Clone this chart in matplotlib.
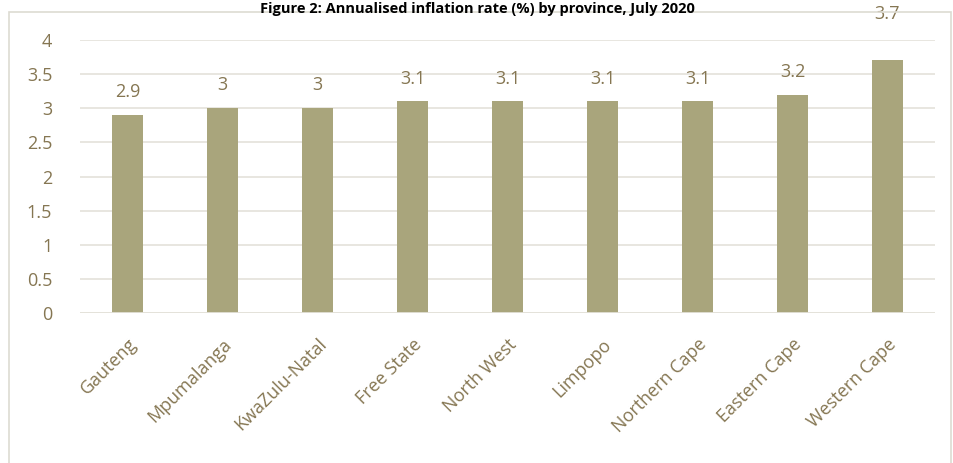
import matplotlib
matplotlib.use('Agg')
import matplotlib.pyplot as plt
from matplotlib.patches import Rectangle

provinces = ['Gauteng', 'Mpumalanga', 'KwaZulu-Natal', 'Free State', 'North West',
             'Limpopo', 'Northern Cape', 'Eastern Cape', 'Western Cape']
rates = [2.9, 3.0, 3.0, 3.1, 3.1, 3.1, 3.1, 3.2, 3.7]
labels = ['2.9', '3', '3', '3.1', '3.1', '3.1', '3.1', '3.2', '3.7']
yticks = [0, 0.5, 1, 1.5, 2, 2.5, 3, 3.5, 4]

bar_col = '#A9A57C'
txt_col = '#857652'
grid_col = '#E4E2DA'

plt.rcParams['font.family'] = ['Open Sans', 'DejaVu Sans']

fig = plt.figure(figsize=(9.54, 4.63), dpi=100)
ax = fig.add_axes([80 / 954, 1 - 313 / 463, 855 / 954, 273 / 463])

x = range(len(provinces))
ax.bar(x, rates, width=0.32, color=bar_col, zorder=3)
for i, v in enumerate(rates):
    # the top label sits higher, above the 4 gridline
    off = 27 if v == max(rates) else 10
    ax.annotate(labels[i], (i, v), xytext=(0, off), textcoords='offset points',
                ha='center', va='bottom', fontsize=13, color=txt_col,
                annotation_clip=False)

ax.set_xlim(-0.5, len(provinces) - 0.5)
ax.set_ylim(0, 4)
ax.set_yticks(yticks)
ax.set_yticklabels(['0', '0.5', '1', '1.5', '2', '2.5', '3', '3.5', '4'])
ax.set_xticks(list(x))
ax.set_xticklabels(provinces, rotation=45, ha='right', va='top',
                   rotation_mode='anchor')
ax.tick_params(axis='both', length=0, labelsize=13, labelcolor=txt_col)
ax.tick_params(axis='y', pad=20)
ax.tick_params(axis='x', pad=16)
ax.grid(axis='y', color=grid_col, lw=1.2, zorder=0)
for s in ax.spines.values():
    s.set_visible(False)
ax.axhline(0, color=grid_col, lw=2, zorder=4)

# outer chart frame
fig.patches.append(Rectangle((9 / 954, -0.1), 942 / 954, 1 - 12 / 463 + 0.1,
                             transform=fig.transFigure, fill=False,
                             edgecolor='#DDDBD2', lw=1.2))

fig.text(0.5, 1 - 1.5 / 463, 'Figure 2: Annualised inflation rate (%) by province, July 2020',
         ha='center', va='top', fontsize=10.5, fontweight='bold', color='black')

fig.savefig('out.png', dpi=100)
